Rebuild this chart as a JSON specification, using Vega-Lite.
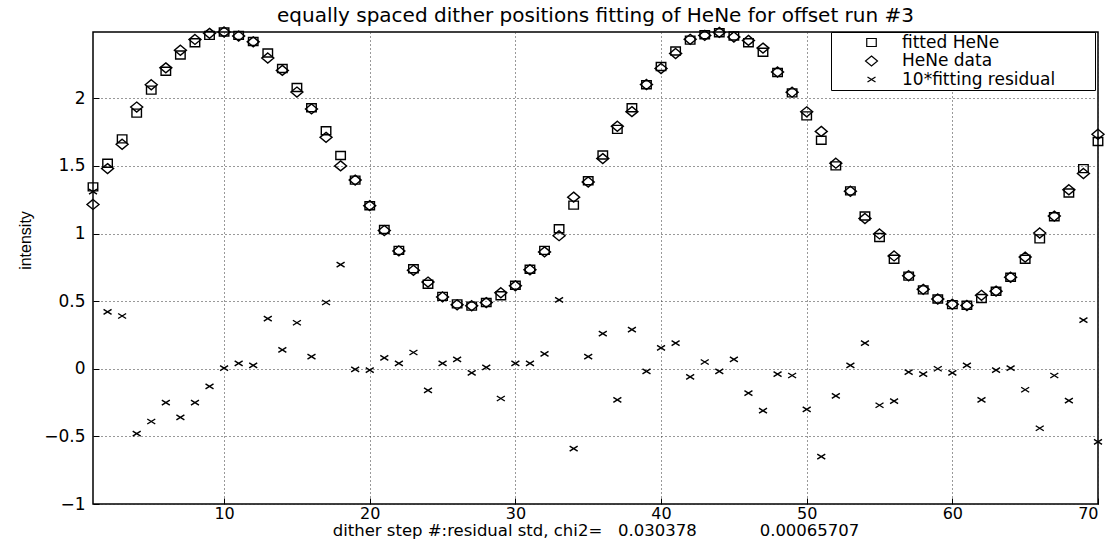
{
"$schema": "https://vega.github.io/schema/vega-lite/v6.json",
"width": 1005, "height": 472,
"autosize": {"type": "none"},
"padding": {"left": 93, "top": 32, "right": 13, "bottom": 37},
"background": "white",
"title": {"text": "equally spaced dither positions fitting of HeNe for offset run #3", "font": "DejaVu Sans", "fontSize": 20, "fontWeight": "normal", "color": "black", "offset": -2, "anchor": "middle"},
"data": {"values": [
{"x":1,"series":"fitted HeNe","value":1.345},{"x":2,"series":"fitted HeNe","value":1.52},{"x":3,"series":"fitted HeNe","value":1.70},{"x":4,"series":"fitted HeNe","value":1.89},{"x":5,"series":"fitted HeNe","value":2.06},{"x":6,"series":"fitted HeNe","value":2.20},{"x":7,"series":"fitted HeNe","value":2.32},{"x":8,"series":"fitted HeNe","value":2.41},{"x":9,"series":"fitted HeNe","value":2.465},{"x":10,"series":"fitted HeNe","value":2.49},
{"x":11,"series":"fitted HeNe","value":2.465},{"x":12,"series":"fitted HeNe","value":2.42},{"x":13,"series":"fitted HeNe","value":2.335},{"x":14,"series":"fitted HeNe","value":2.22},{"x":15,"series":"fitted HeNe","value":2.08},{"x":16,"series":"fitted HeNe","value":1.93},{"x":17,"series":"fitted HeNe","value":1.76},{"x":18,"series":"fitted HeNe","value":1.577},{"x":19,"series":"fitted HeNe","value":1.395},{"x":20,"series":"fitted HeNe","value":1.205},
{"x":21,"series":"fitted HeNe","value":1.03},{"x":22,"series":"fitted HeNe","value":0.875},{"x":23,"series":"fitted HeNe","value":0.74},{"x":24,"series":"fitted HeNe","value":0.625},{"x":25,"series":"fitted HeNe","value":0.535},{"x":26,"series":"fitted HeNe","value":0.48},{"x":27,"series":"fitted HeNe","value":0.463},{"x":28,"series":"fitted HeNe","value":0.49},{"x":29,"series":"fitted HeNe","value":0.54},{"x":30,"series":"fitted HeNe","value":0.617},
{"x":31,"series":"fitted HeNe","value":0.736},{"x":32,"series":"fitted HeNe","value":0.875},{"x":33,"series":"fitted HeNe","value":1.035},{"x":34,"series":"fitted HeNe","value":1.21},{"x":35,"series":"fitted HeNe","value":1.39},{"x":36,"series":"fitted HeNe","value":1.58},{"x":37,"series":"fitted HeNe","value":1.77},{"x":38,"series":"fitted HeNe","value":1.93},{"x":39,"series":"fitted HeNe","value":2.10},{"x":40,"series":"fitted HeNe","value":2.235},
{"x":41,"series":"fitted HeNe","value":2.35},{"x":42,"series":"fitted HeNe","value":2.43},{"x":43,"series":"fitted HeNe","value":2.47},{"x":44,"series":"fitted HeNe","value":2.485},{"x":45,"series":"fitted HeNe","value":2.46},{"x":46,"series":"fitted HeNe","value":2.41},{"x":47,"series":"fitted HeNe","value":2.34},{"x":48,"series":"fitted HeNe","value":2.19},{"x":49,"series":"fitted HeNe","value":2.04},{"x":50,"series":"fitted HeNe","value":1.87},
{"x":51,"series":"fitted HeNe","value":1.69},{"x":52,"series":"fitted HeNe","value":1.50},{"x":53,"series":"fitted HeNe","value":1.315},{"x":54,"series":"fitted HeNe","value":1.13},{"x":55,"series":"fitted HeNe","value":0.97},{"x":56,"series":"fitted HeNe","value":0.81},{"x":57,"series":"fitted HeNe","value":0.685},{"x":58,"series":"fitted HeNe","value":0.583},{"x":59,"series":"fitted HeNe","value":0.516},{"x":60,"series":"fitted HeNe","value":0.474},
{"x":61,"series":"fitted HeNe","value":0.47},{"x":62,"series":"fitted HeNe","value":0.52},{"x":63,"series":"fitted HeNe","value":0.573},{"x":64,"series":"fitted HeNe","value":0.677},{"x":65,"series":"fitted HeNe","value":0.81},{"x":66,"series":"fitted HeNe","value":0.96},{"x":67,"series":"fitted HeNe","value":1.124},{"x":68,"series":"fitted HeNe","value":1.30},{"x":69,"series":"fitted HeNe","value":1.48},{"x":70,"series":"fitted HeNe","value":1.68},
{"x":1,"series":"HeNe data","value":1.215},{"x":2,"series":"HeNe data","value":1.48},{"x":3,"series":"HeNe data","value":1.66},{"x":4,"series":"HeNe data","value":1.935},{"x":5,"series":"HeNe data","value":2.10},{"x":6,"series":"HeNe data","value":2.225},{"x":7,"series":"HeNe data","value":2.355},{"x":8,"series":"HeNe data","value":2.435},{"x":9,"series":"HeNe data","value":2.48},{"x":10,"series":"HeNe data","value":2.49},
{"x":11,"series":"HeNe data","value":2.46},{"x":12,"series":"HeNe data","value":2.417},{"x":13,"series":"HeNe data","value":2.298},{"x":14,"series":"HeNe data","value":2.206},{"x":15,"series":"HeNe data","value":2.046},{"x":16,"series":"HeNe data","value":1.921},{"x":17,"series":"HeNe data","value":1.711},{"x":18,"series":"HeNe data","value":1.50},{"x":19,"series":"HeNe data","value":1.395},{"x":20,"series":"HeNe data","value":1.206},
{"x":21,"series":"HeNe data","value":1.022},{"x":22,"series":"HeNe data","value":0.871},{"x":23,"series":"HeNe data","value":0.728},{"x":24,"series":"HeNe data","value":0.641},{"x":25,"series":"HeNe data","value":0.531},{"x":26,"series":"HeNe data","value":0.473},{"x":27,"series":"HeNe data","value":0.466},{"x":28,"series":"HeNe data","value":0.489},{"x":29,"series":"HeNe data","value":0.562},{"x":30,"series":"HeNe data","value":0.613},
{"x":31,"series":"HeNe data","value":0.732},{"x":32,"series":"HeNe data","value":0.864},{"x":33,"series":"HeNe data","value":0.984},{"x":34,"series":"HeNe data","value":1.269},{"x":35,"series":"HeNe data","value":1.381},{"x":36,"series":"HeNe data","value":1.554},{"x":37,"series":"HeNe data","value":1.793},{"x":38,"series":"HeNe data","value":1.901},{"x":39,"series":"HeNe data","value":2.102},{"x":40,"series":"HeNe data","value":2.22},
{"x":41,"series":"HeNe data","value":2.331},{"x":42,"series":"HeNe data","value":2.436},{"x":43,"series":"HeNe data","value":2.465},{"x":44,"series":"HeNe data","value":2.487},{"x":45,"series":"HeNe data","value":2.453},{"x":46,"series":"HeNe data","value":2.428},{"x":47,"series":"HeNe data","value":2.371},{"x":48,"series":"HeNe data","value":2.194},{"x":49,"series":"HeNe data","value":2.045},{"x":50,"series":"HeNe data","value":1.90},
{"x":51,"series":"HeNe data","value":1.755},{"x":52,"series":"HeNe data","value":1.52},{"x":53,"series":"HeNe data","value":1.3125},{"x":54,"series":"HeNe data","value":1.111},{"x":55,"series":"HeNe data","value":0.997},{"x":56,"series":"HeNe data","value":0.834},{"x":57,"series":"HeNe data","value":0.6875},{"x":58,"series":"HeNe data","value":0.587},{"x":59,"series":"HeNe data","value":0.516},{"x":60,"series":"HeNe data","value":0.477},
{"x":61,"series":"HeNe data","value":0.4675},{"x":62,"series":"HeNe data","value":0.543},{"x":63,"series":"HeNe data","value":0.574},{"x":64,"series":"HeNe data","value":0.6765},{"x":65,"series":"HeNe data","value":0.8255},{"x":66,"series":"HeNe data","value":1.004},{"x":67,"series":"HeNe data","value":1.129},{"x":68,"series":"HeNe data","value":1.3235},{"x":69,"series":"HeNe data","value":1.444},{"x":70,"series":"HeNe data","value":1.734},
{"x":1,"series":"10*fitting residual","value":1.31},{"x":2,"series":"10*fitting residual","value":0.42},{"x":3,"series":"10*fitting residual","value":0.39},{"x":4,"series":"10*fitting residual","value":-0.48},{"x":5,"series":"10*fitting residual","value":-0.39},{"x":6,"series":"10*fitting residual","value":-0.25},{"x":7,"series":"10*fitting residual","value":-0.36},{"x":8,"series":"10*fitting residual","value":-0.25},{"x":9,"series":"10*fitting residual","value":-0.13},{"x":10,"series":"10*fitting residual","value":0.005},
{"x":11,"series":"10*fitting residual","value":0.04},{"x":12,"series":"10*fitting residual","value":0.025},{"x":13,"series":"10*fitting residual","value":0.37},{"x":14,"series":"10*fitting residual","value":0.14},{"x":15,"series":"10*fitting residual","value":0.34},{"x":16,"series":"10*fitting residual","value":0.09},{"x":17,"series":"10*fitting residual","value":0.49},{"x":18,"series":"10*fitting residual","value":0.77},{"x":19,"series":"10*fitting residual","value":-0.005},{"x":20,"series":"10*fitting residual","value":-0.01},
{"x":21,"series":"10*fitting residual","value":0.08},{"x":22,"series":"10*fitting residual","value":0.04},{"x":23,"series":"10*fitting residual","value":0.12},{"x":24,"series":"10*fitting residual","value":-0.16},{"x":25,"series":"10*fitting residual","value":0.04},{"x":26,"series":"10*fitting residual","value":0.07},{"x":27,"series":"10*fitting residual","value":-0.03},{"x":28,"series":"10*fitting residual","value":0.01},{"x":29,"series":"10*fitting residual","value":-0.22},{"x":30,"series":"10*fitting residual","value":0.04},
{"x":31,"series":"10*fitting residual","value":0.04},{"x":32,"series":"10*fitting residual","value":0.11},{"x":33,"series":"10*fitting residual","value":0.51},{"x":34,"series":"10*fitting residual","value":-0.59},{"x":35,"series":"10*fitting residual","value":0.09},{"x":36,"series":"10*fitting residual","value":0.26},{"x":37,"series":"10*fitting residual","value":-0.23},{"x":38,"series":"10*fitting residual","value":0.29},{"x":39,"series":"10*fitting residual","value":-0.02},{"x":40,"series":"10*fitting residual","value":0.155},
{"x":41,"series":"10*fitting residual","value":0.19},{"x":42,"series":"10*fitting residual","value":-0.06},{"x":43,"series":"10*fitting residual","value":0.05},{"x":44,"series":"10*fitting residual","value":-0.02},{"x":45,"series":"10*fitting residual","value":0.07},{"x":46,"series":"10*fitting residual","value":-0.18},{"x":47,"series":"10*fitting residual","value":-0.31},{"x":48,"series":"10*fitting residual","value":-0.04},{"x":49,"series":"10*fitting residual","value":-0.05},{"x":50,"series":"10*fitting residual","value":-0.30},
{"x":51,"series":"10*fitting residual","value":-0.65},{"x":52,"series":"10*fitting residual","value":-0.20},{"x":53,"series":"10*fitting residual","value":0.025},{"x":54,"series":"10*fitting residual","value":0.19},{"x":55,"series":"10*fitting residual","value":-0.27},{"x":56,"series":"10*fitting residual","value":-0.24},{"x":57,"series":"10*fitting residual","value":-0.025},{"x":58,"series":"10*fitting residual","value":-0.04},{"x":59,"series":"10*fitting residual","value":0.0},{"x":60,"series":"10*fitting residual","value":-0.03},
{"x":61,"series":"10*fitting residual","value":0.025},{"x":62,"series":"10*fitting residual","value":-0.23},{"x":63,"series":"10*fitting residual","value":-0.01},{"x":64,"series":"10*fitting residual","value":0.005},{"x":65,"series":"10*fitting residual","value":-0.155},{"x":66,"series":"10*fitting residual","value":-0.44},{"x":67,"series":"10*fitting residual","value":-0.05},{"x":68,"series":"10*fitting residual","value":-0.235},{"x":69,"series":"10*fitting residual","value":0.36},{"x":70,"series":"10*fitting residual","value":-0.54}
]},
"mark": {"type": "point", "filled": false, "strokeWidth": 1.4, "opacity": 1, "size": 100},
"encoding": {
  "x": {"field": "x", "type": "quantitative",
        "scale": {"domain": [1, 70], "nice": false, "zero": false},
        "axis": {"values": [10, 20, 30, 40, 50, 60, 70], "labelPadding": 7, "labelFontSize": 16, "titlePadding": 1, "titleFontSize": 16.5,
                 "title": "dither step #:residual std, chi2=\u00a0\u00a0\u00a00.030378\u00a0\u00a0\u00a0\u00a0\u00a0\u00a0\u00a0\u00a0\u00a0\u00a0\u00a0\u00a00.00065707"}},
  "y": {"field": "value", "type": "quantitative",
        "scale": {"domain": [-1, 2.49], "nice": false, "zero": false},
        "axis": {"values": [-1, -0.5, 0, 0.5, 1, 1.5, 2], "format": "~g", "labelPadding": 14,
                 "title": "intensity", "titleFont": "Liberation Sans", "titleFontSize": 16,
                 "titleAngle": -90, "titleX": -68, "titleY": 208, "titleAlign": "center", "titleBaseline": "middle"}},
  "shape": {"field": "series", "type": "nominal",
            "scale": {"domain": ["fitted HeNe", "HeNe data", "10*fitting residual"],
                      "range": ["M-0.95,-0.8H0.95V0.8H-0.95Z", "M0,-1L1.2,0L0,1L-1.2,0Z", "M-0.8,-0.5L0.8,0.5M-0.8,0.5L0.8,-0.5"]},
            "legend": {"title": null, "orient": "none", "legendX": 738, "legendY": 0,
                       "strokeColor": "black", "fillColor": "white", "padding": 2,
                       "symbolOffset": 30, "labelOffset": 22, "rowPadding": 0.5,
                       "symbolSize": 100, "symbolStrokeColor": "black", "symbolFillColor": "transparent", "symbolStrokeWidth": 1.2,
                       "labelFont": "DejaVu Sans", "labelFontSize": 17, "labelColor": "black", "labelLimit": 600,
                       "labelExpr": "datum.label + '\u2800\u2800\u2800'"}},
  "color": {"value": "black"}
},
"config": {
  "view": {"stroke": "black", "strokeWidth": 1.5},
  "axis": {"domain": false, "grid": true, "gridColor": "#333", "gridDash": [1, 3], "gridWidth": 1,
           "ticks": true, "tickSize": -6, "tickColor": "black", "tickWidth": 1,
           "labelFont": "DejaVu Sans", "labelFontSize": 17, "labelColor": "black",
           "titleFont": "DejaVu Sans", "titleFontSize": 17, "titleFontWeight": "normal", "titleColor": "black"}
}
}
